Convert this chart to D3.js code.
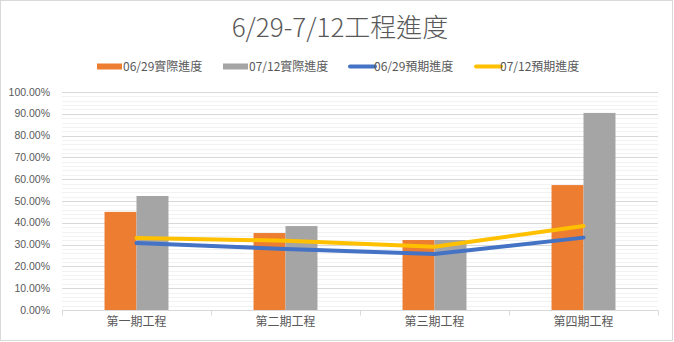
<!DOCTYPE html>
<html>
<head>
<meta charset="utf-8">
<script src="https://cdn.jsdelivr.net/npm/d3@7"></script>
<style>
  body { margin: 0; background: #fff; }
  text { font-family: "Noto Sans CJK TC", "Noto Sans", sans-serif; fill: #595959; }
</style>
</head>
<body>
<script>
var categories = ["第一期工程", "第二期工程", "第三期工程", "第四期工程"];
var barSeries = ["06/29實際進度", "07/12實際進度"];
var lineSeries = ["06/29預期進度", "07/12預期進度"];
var actual0629 = [0.45, 0.353, 0.321, 0.573];
var actual0712 = [0.523, 0.385, 0.321, 0.904];
var plan0629 = [0.307, 0.28, 0.257, 0.332];
var plan0712 = [0.33, 0.318, 0.29, 0.385];
var yTicks = [0, 0.1, 0.2, 0.3, 0.4, 0.5, 0.6, 0.7, 0.8, 0.9, 1.0];

var colors = {
  "06/29實際進度": "#ED7D31",
  "07/12實際進度": "#A5A5A5",
  "06/29預期進度": "#4472C4",
  "07/12預期進度": "#FFC000"
};

var width = 674, height = 342;
var svg = d3.select("body").append("svg")
    .attr("width", width)
    .attr("height", height);

// chart border
svg.append("rect")
    .attr("x", 0.5).attr("y", 0.5)
    .attr("width", width - 2).attr("height", height - 2)
    .attr("fill", "#fff")
    .attr("stroke", "#d9d9d9");

var plotLeft = 62, plotRight = 658, plotTop = 92, plotBottom = 310;

var y = d3.scaleLinear().domain([0, 1]).range([plotBottom, plotTop]);
var x0 = d3.scaleBand().domain(categories).range([plotLeft, plotRight]);
var x1 = d3.scaleBand().domain(barSeries).range([0, x0.bandwidth()]).paddingOuter(1.33);

// minor gridlines
svg.append("g").selectAll("line")
    .data(d3.range(0, 1.001, 0.02).filter(function (d) { return Math.round(d * 50) % 5 != 0; }))
    .enter().append("line")
    .attr("x1", plotLeft).attr("x2", plotRight)
    .attr("y1", function (d) { return Math.round(y(d)) + 0.5; })
    .attr("y2", function (d) { return Math.round(y(d)) + 0.5; })
    .attr("stroke", "#f2f2f2");

// major gridlines
svg.append("g").selectAll("line")
    .data(yTicks.slice(1))
    .enter().append("line")
    .attr("x1", plotLeft).attr("x2", plotRight)
    .attr("y1", function (d) { return Math.round(y(d)) + 0.5; })
    .attr("y2", function (d) { return Math.round(y(d)) + 0.5; })
    .attr("stroke", "#d9d9d9");

// y labels
svg.append("g").selectAll("text")
    .data(yTicks)
    .enter().append("text")
    .attr("x", 50)
    .attr("y", function (d) { return y(d); })
    .attr("dy", "0.35em")
    .attr("text-anchor", "end")
    .style("font-size", "10.5px")
    .style("font-family", "'Liberation Sans Narrow', 'Liberation Sans', sans-serif")
    .text(function (d) { return (d * 100).toFixed(2) + "%"; });

// bars
var groups = svg.append("g").selectAll("g")
    .data(categories)
    .enter().append("g")
    .attr("transform", function (d) { return "translate(" + x0(d) + ",0)"; });

groups.selectAll("rect")
    .data(function (d, i) {
        return [
            { key: barSeries[0], value: actual0629[i] },
            { key: barSeries[1], value: actual0712[i] }
        ];
    })
    .enter().append("rect")
    .attr("x", function (d) { return x1(d.key); })
    .attr("width", x1.bandwidth())
    .attr("y", function (d) { return y(d.value); })
    .attr("height", function (d) { return plotBottom - y(d.value); })
    .attr("fill", function (d) { return colors[d.key]; });

// x axis
var axis = svg.append("g").attr("transform", "translate(0," + (plotBottom + 0.5) + ")");
axis.append("line")
    .attr("x1", plotLeft).attr("x2", plotRight)
    .attr("stroke", "#d9d9d9");
axis.selectAll(".tick")
    .data(categories.map(function (d) { return x0(d); }).concat([plotRight]))
    .enter().append("line")
    .attr("x1", function (d) { return Math.round(d) + 0.5; })
    .attr("x2", function (d) { return Math.round(d) + 0.5; })
    .attr("y1", 0).attr("y2", 5)
    .attr("stroke", "#d9d9d9");
axis.selectAll("text")
    .data(categories)
    .enter().append("text")
    .attr("x", function (d) { return x0(d) + x0.bandwidth() / 2; })
    .attr("y", 15)
    .attr("text-anchor", "middle")
    .style("font-size", "12px")
    .text(function (d) { return d; });

// lines
var line = d3.line()
    .x(function (d, i) { return x0(categories[i]) + x0.bandwidth() / 2; })
    .y(function (d) { return y(d); });

[[lineSeries[0], plan0629], [lineSeries[1], plan0712]].forEach(function (s) {
    svg.append("path")
        .datum(s[1])
        .attr("d", line)
        .attr("fill", "none")
        .attr("stroke", colors[s[0]])
        .attr("stroke-width", 4)
        .attr("stroke-linecap", "round")
        .attr("stroke-linejoin", "round");
});

// title
svg.append("text")
    .attr("x", 340)
    .attr("y", 37)
    .attr("text-anchor", "middle")
    .style("font-size", "26px")
    .style("font-weight", 300)
    .text("6/29-7/12工程進度");

// legend
var legendItems = [
    { key: barSeries[0], x: 97, type: "bar" },
    { key: barSeries[1], x: 223, type: "bar" },
    { key: lineSeries[0], x: 348, type: "line" },
    { key: lineSeries[1], x: 474, type: "line" }
];
var legend = svg.append("g").attr("transform", "translate(0,66.5)");
legendItems.forEach(function (d) {
    if (d.type == "bar") {
        legend.append("rect")
            .attr("x", d.x).attr("y", -3)
            .attr("width", 25).attr("height", 6)
            .attr("fill", colors[d.key]);
    } else {
        legend.append("line")
            .attr("x1", d.x + 2).attr("x2", d.x + 27)
            .attr("stroke", colors[d.key])
            .attr("stroke-width", 4)
            .attr("stroke-linecap", "round");
    }
    legend.append("text")
        .attr("x", d.x + 26)
        .attr("dy", "0.35em")
        .style("font-size", "12px")
        .text(d.key);
});
</script>
</body>
</html>
